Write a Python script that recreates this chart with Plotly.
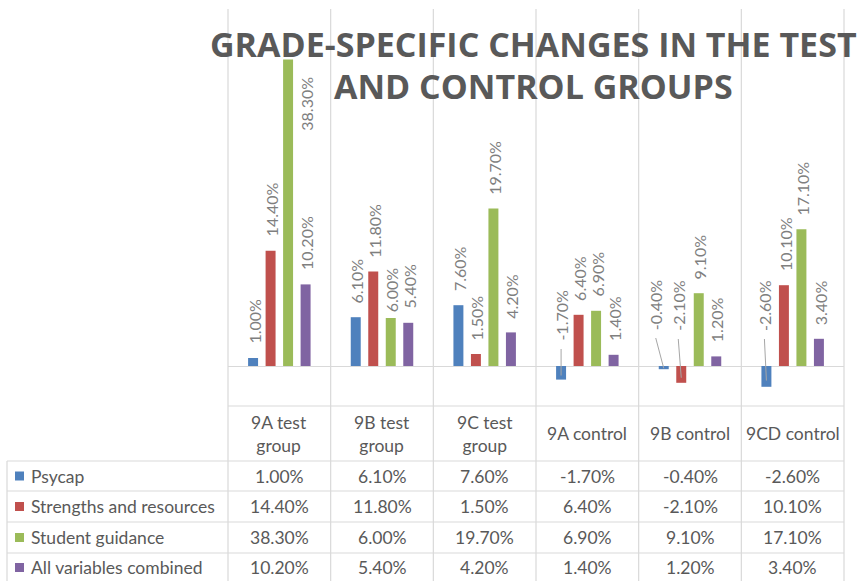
import plotly.graph_objects as go

# ---------------- data ----------------
categories = ["9A test<br>group", "9B test<br>group", "9C test<br>group",
              "9A control", "9B control", "9CD control"]
series_names = ["Psycap", "Strengths and resources", "Student guidance",
                "All variables combined"]
psycap = [1.0, 6.1, 7.6, -1.7, -0.4, -2.6]
strengths = [14.4, 11.8, 1.5, 6.4, -2.1, 10.1]
guidance = [38.3, 6.0, 19.7, 6.9, 9.1, 17.1]
combined = [10.2, 5.4, 4.2, 1.4, 1.2, 3.4]
series_values = [psycap, strengths, guidance, combined]
title_lines = ["GRADE-SPECIFIC CHANGES IN THE TEST", "AND CONTROL GROUPS"]

# ---------------- style ----------------
colors = ["#4F81BD", "#C0504D", "#9BBB59", "#8064A2"]
GRID = "#d9d9d9"
TXT = "#595959"
LBL = "#7f7f7f"
FIG_W, FIG_H = 861, 581
X0, X1 = 228, 844          # plot area (px)
Y_TOP, Y_BOT = 9, 406
BARGAP = 0.318
GROUPGAP = 0.43
n_cat = len(categories)
n_ser = len(series_names)


def px2x(px):
    return (px - X0) / (X1 - X0)


def py2y(py):
    return (Y_BOT - py) / (Y_BOT - Y_TOP)


xs = list(range(n_cat))
slot = (1 - BARGAP) / n_ser

fig = go.Figure()
for k, (name, vals) in enumerate(zip(series_names, series_values)):
    fig.add_trace(go.Bar(x=xs, y=vals, name=name, marker_color=colors[k],
                         marker_line_width=0, showlegend=False, hoverinfo="skip"))

annotations = []
shapes = []

# label placement tweaks (style only)
special = {(2, 0): dict(yanchor="top", yshift=-15, xshift=19),
           (2, 1): dict(yanchor="bottom", yshift=4, xshift=1)}
neg_shift = {(0, 3): (23, 0), (0, 4): (34, -8), (1, 4): (33, -3), (0, 5): (33, -2)}

for k, vals in enumerate(series_values):
    for i, v in enumerate(vals):
        xb = i - (1 - BARGAP) / 2 + slot * (k + 0.5)
        txt = f"{v:.2f}%"
        if v >= 0:
            opts = special.get((k, i), dict(yanchor="bottom", yshift=12, xshift=1))
            annotations.append(dict(x=xb, y=v, xref="x", yref="y", text=txt,
                                    showarrow=False, textangle=-90,
                                    font=dict(family="Lato", size=16, color=LBL),
                                    **opts))
        else:
            ys, xsft = neg_shift.get((k, i), (30, 0))
            annotations.append(dict(x=xb, y=0, xref="x", yref="y", text=txt,
                                    showarrow=False, textangle=-90, yanchor="bottom",
                                    yshift=ys, xshift=xsft,
                                    font=dict(family="Lato", size=16, color=LBL)))
            # leader line
            dx = xsft / ((X1 - X0) / n_cat)
            shapes.append(dict(type="line", xref="x", yref="y",
                               x0=xb + dx, y0=(ys - 6) / 8.0, x1=xb, y1=v * 0.7,
                               line=dict(color="#a6a6a6", width=1), layer="above"))

# vertical grid/table lines
for j in range(n_cat + 1):
    px = X0 + (X1 - X0) * j / n_cat
    shapes.append(dict(type="line", xref="paper", yref="paper",
                       x0=px2x(px), x1=px2x(px), y0=py2y(Y_TOP), y1=py2y(FIG_H + 2),
                       line=dict(color=GRID, width=1.2), layer="below"))
# left table border
shapes.append(dict(type="line", xref="paper", yref="paper",
                   x0=px2x(7), x1=px2x(7), y0=py2y(461), y1=py2y(FIG_H + 2),
                   line=dict(color=GRID, width=1.2), layer="below"))
# horizontal table lines
shapes.append(dict(type="line", xref="paper", yref="paper",
                   x0=0, x1=1, y0=0, y1=0, line=dict(color=GRID, width=1.2)))
row_tops = [461, 491, 522, 553]
row_bottom = 582
for yy in row_tops:
    shapes.append(dict(type="line", xref="paper", yref="paper",
                       x0=px2x(7), x1=1, y0=py2y(yy), y1=py2y(yy),
                       line=dict(color=GRID, width=1.2)))

tfont = dict(family="Lato", size=17.5, color=TXT)
# header row
for i, c in enumerate(categories):
    annotations.append(dict(x=(i + 0.5) / n_cat, y=py2y(433.5), xref="paper", yref="paper",
                            text=c, showarrow=False, font=tfont,
                            xanchor="center", yanchor="middle"))
# data rows
bounds = row_tops + [row_bottom]
for k, (name, vals) in enumerate(zip(series_names, series_values)):
    yc = (bounds[k] + bounds[k + 1]) / 2
    shapes.append(dict(type="rect", xref="paper", yref="paper",
                       x0=px2x(15), x1=px2x(24), y0=py2y(yc + 4.5), y1=py2y(yc - 4.5),
                       fillcolor=colors[k], line=dict(width=0)))
    annotations.append(dict(x=px2x(29), y=py2y(yc), xref="paper", yref="paper",
                            text=name, showarrow=False, font=tfont,
                            xanchor="left", yanchor="middle"))
    for i, v in enumerate(vals):
        annotations.append(dict(x=(i + 0.5) / n_cat, y=py2y(yc), xref="paper", yref="paper",
                                text=f"{v:.2f}%", showarrow=False, font=tfont,
                                xanchor="center", yanchor="middle"))

# title
for t, yc in zip(title_lines, [44, 86]):
    annotations.append(dict(x=px2x(533), y=py2y(yc), xref="paper", yref="paper",
                            text=f"<b>{t}</b>", showarrow=False,
                            font=dict(family="Open Sans", size=34, color=TXT),
                            xanchor="center", yanchor="middle"))

fig.update_layout(
    width=FIG_W, height=FIG_H,
    margin=dict(l=X0, r=FIG_W - X1, t=Y_TOP, b=FIG_H - Y_BOT, pad=0),
    paper_bgcolor="white", plot_bgcolor="white",
    barmode="group", bargap=BARGAP, bargroupgap=GROUPGAP,
    xaxis=dict(range=[-0.5, n_cat - 0.5], showgrid=False, showticklabels=False,
               zeroline=False, showline=False, ticks=""),
    yaxis=dict(range=[-5, (366 - Y_TOP) / 8.0], showgrid=False, showticklabels=False,
               zeroline=True, zerolinecolor=GRID, zerolinewidth=1.2,
               showline=False, ticks=""),
    annotations=annotations, shapes=shapes,
    showlegend=False,
)

fig.write_html("out.html", config={"displayModeBar": False},
               post_script="document.body.style.margin='0';")
